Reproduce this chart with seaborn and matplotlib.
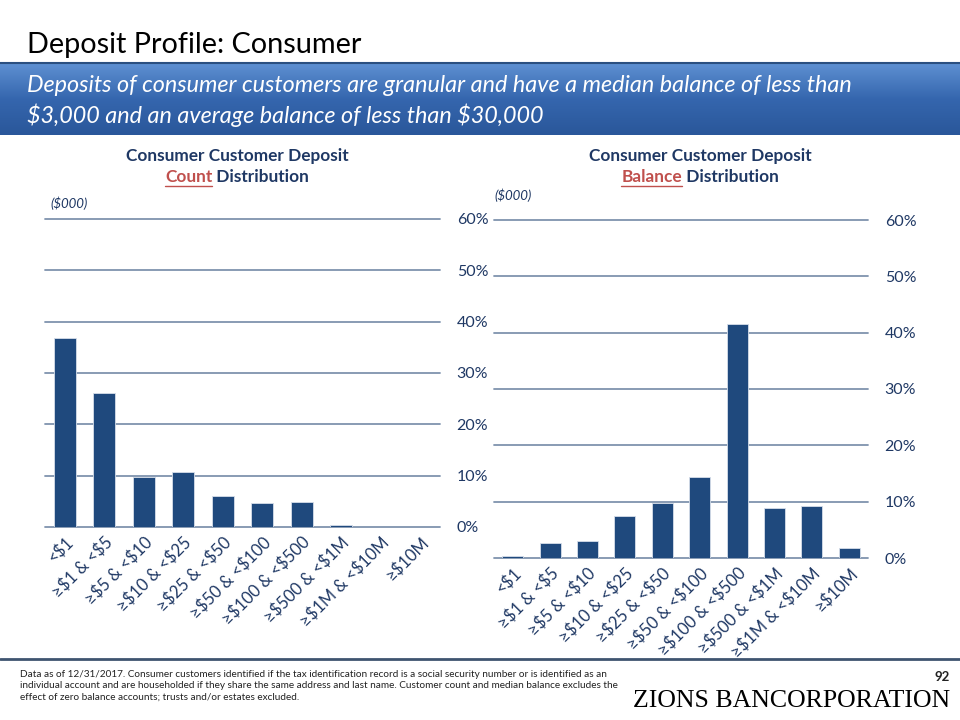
import numpy as np
import pandas as pd
import matplotlib
matplotlib.use("Agg")
import matplotlib.pyplot as plt
from matplotlib.lines import Line2D
import seaborn as sns

categories = ["<$1", "≥$1 & <$5", "≥$5 & <$10", "≥$10 & <$25", "≥$25 & <$50",
              "≥$50 & <$100", "≥$100 & <$500", "≥$500 & <$1M", "≥$1M & <$10M", "≥$10M"]
count_pct = [36.9, 26.1, 9.7, 10.7, 6.1, 4.6, 4.8, 0.3, 0.0, 0.0]
balance_pct = [0.4, 2.7, 3.1, 7.4, 9.7, 14.4, 41.5, 8.9, 9.2, 1.8]
y_ticks = [0, 10, 20, 30, 40, 50, 60]

sns.set_theme(style="white")
plt.rcParams["font.family"] = ["Lato", "DejaVu Sans"]
plt.rcParams["text.parse_math"] = False

BAR = "#1F497D"
DARK = "#1F3864"
RED = "#C0504D"
GRID = "#7F93AE"

fig = plt.figure(figsize=(9.6, 7.2), dpi=100)

# Title
fig.text(27/960, 1 - 45/720, "Deposit Profile: Consumer", fontsize=20.8, color="black",
         va="center", ha="left")

# Banner with gradient
bax = fig.add_axes([0, 585/720, 1, 72/720])
grad = np.linspace(0, 1, 100).reshape(-1, 1)
cmap = matplotlib.colors.LinearSegmentedColormap.from_list("b", ["#5E90D2", "#3566AE", "#2A579A"])
bax.imshow(grad, aspect="auto", cmap=cmap, extent=[0, 1, 0, 1])
bax.set_axis_off()
fig.add_artist(Line2D([0, 1], [1 - 63/720, 1 - 63/720], color="#2A4F80", lw=1.5,
                      transform=fig.transFigure))
fig.text(27/960, 1 - 86/720, "Deposits of consumer customers are granular and have a median balance of less than",
         fontsize=16.8, style="italic", color="white", va="center", ha="left")
fig.text(27/960, 1 - 115/720, "$3,000 and an average balance of less than $30,000",
         fontsize=16.8, style="italic", color="white", va="center", ha="left")

renderer = fig.canvas.get_renderer()

def subtitle(cx, red_word):
    fig.text(cx/960, 1 - 156/720, "Consumer Customer Deposit", fontsize=12.4, fontweight="bold",
             color=DARK, ha="center", va="center")
    t1 = fig.text(0, 1 - 177/720, red_word, fontsize=12.4, fontweight="bold", color=RED,
                  ha="left", va="center")
    t2 = fig.text(0, 1 - 177/720, " Distribution", fontsize=12.4, fontweight="bold", color=DARK,
                  ha="left", va="center")
    w1 = t1.get_window_extent(renderer).width
    w2 = t2.get_window_extent(renderer).width
    x0 = cx - (w1 + w2) / 2
    t1.set_x(x0/960)
    t2.set_x((x0 + w1)/960)
    yb = 1 - 186/720
    fig.add_artist(Line2D([x0/960, (x0 + w1)/960], [yb, yb], color=RED, lw=1.0,
                          transform=fig.transFigure))

subtitle(237, "Count")
subtitle(700, "Balance")

fig.text(50/960, 1 - 203/720, "($000)", fontsize=9.5, style="italic", color=DARK, va="center")
fig.text(494/960, 1 - 195/720, "($000)", fontsize=9.5, style="italic", color=DARK, va="center")

def draw(rect, values):
    ax = fig.add_axes(rect)
    df = pd.DataFrame({"cat": categories, "val": values})
    sns.barplot(data=df, x="cat", y="val", ax=ax, color=BAR, width=0.56,
                edgecolor="#D6DEEA", linewidth=0.6, saturation=1)
    ax.set_ylim(0, 60)
    ax.set_xlim(-0.5, len(categories) - 0.5)
    ax.set_yticks(y_ticks)
    ax.set_yticklabels([f"{v}%" for v in y_ticks], fontsize=11.5, color=DARK)
    ax.yaxis.tick_right()
    ax.tick_params(axis="y", length=0, pad=12)
    ax.tick_params(axis="x", length=0, pad=5)
    ax.set_xticks(range(len(categories)))
    ax.set_xticklabels(categories, rotation=45, ha="right", rotation_mode="anchor",
                       fontsize=12, color=DARK)
    for v in y_ticks:
        ax.axhline(v, color=GRID, lw=1.3, zorder=0, clip_on=False)
    for s in ax.spines.values():
        s.set_visible(False)
    ax.set_xlabel("")
    ax.set_ylabel("")
    ax.patch.set_alpha(0)
    return ax

draw([45/960, (720-527)/720, 395/960, 308/720], count_pct)
draw([494/960, (720-558)/720, 374/960, 338/720], balance_pct)

# Footer
fig.add_artist(Line2D([0, 1], [1 - 659/720, 1 - 659/720], color="#3F5470", lw=2,
                      transform=fig.transFigure))
footer = ("Data as of 12/31/2017. Consumer customers identified if the tax identification record is a social security number or is identified as an\n"
          "individual account and are householded if they share the same address and last name. Customer count and median balance excludes the\n"
          "effect of zero balance accounts; trusts and/or estates excluded.")
fig.text(20/960, 1 - 670/720, footer, fontsize=7.2, color="#222222", va="top", ha="left",
         linespacing=1.3)
fig.text(950/960, 1 - 677/720, "92", fontsize=9.5, fontweight="bold", color="#222222",
         ha="right", va="center")
fig.text(950/960, 1 - 701/720, "ZIONS BANCORPORATION", fontsize=18.6,
         family=["Liberation Serif", "DejaVu Serif"], color="black", ha="right", va="center")

fig.savefig("out.png", dpi=100)
